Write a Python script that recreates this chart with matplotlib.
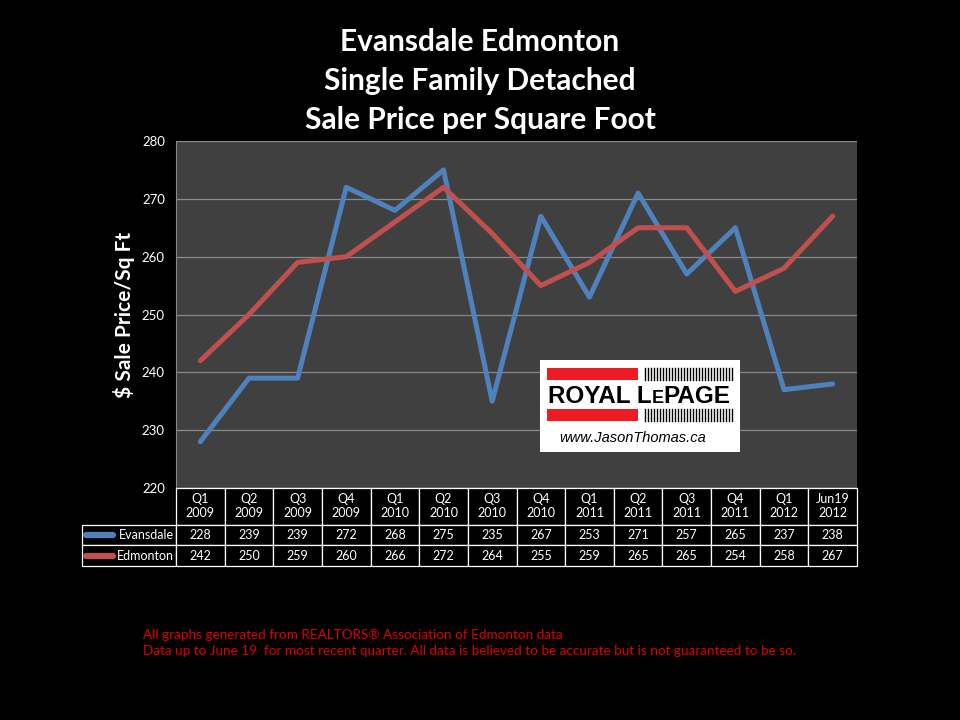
import matplotlib.pyplot as plt
from matplotlib.patches import Rectangle
from matplotlib.lines import Line2D

quarters = ["Q1\n2009", "Q2\n2009", "Q3\n2009", "Q4\n2009", "Q1\n2010", "Q2\n2010", "Q3\n2010",
            "Q4\n2010", "Q1\n2011", "Q2\n2011", "Q3\n2011", "Q4\n2011", "Q1\n2012", "Jun19\n2012"]
evansdale = [228, 239, 239, 272, 268, 275, 235, 267, 253, 271, 257, 265, 237, 238]
edmonton = [242, 250, 259, 260, 266, 272, 264, 255, 259, 265, 265, 254, 258, 267]
series_names = ["Evansdale", "Edmonton"]
colors = ["#4F81BD", "#C0504D"]

plt.rcParams['font.family'] = ['Lato', 'DejaVu Sans']
W, H = 960, 720
fig = plt.figure(figsize=(9.6, 7.2), dpi=100, facecolor="black")

def fx(px):
    return px / W

def fy(py):
    return 1 - py / H

# main plot area
ax = fig.add_axes([fx(176), fy(488), fx(857) - fx(176), (488 - 141) / H])
ax.set_facecolor("#404040")
x = range(len(quarters))
for vals, c in zip([evansdale, edmonton], colors):
    ax.plot(x, vals, color=c, lw=3.6, solid_capstyle="round", zorder=3)
ax.set_xlim(-0.5, len(quarters) - 0.5)
ax.set_ylim(220, 280)
ax.set_yticks(range(220, 281, 10))
ax.yaxis.grid(True, color="#8a8a8a", lw=0.9)
ax.set_axisbelow(True)
ax.set_xticks([])
ax.tick_params(axis="y", colors="white", labelsize=9.5, length=0, pad=8)
for s in ["top", "right"]:
    ax.spines[s].set_visible(False)
ax.spines["left"].set_color("#8a8a8a")
ax.spines["bottom"].set_color("white")
ax.set_ylabel("$ Sale Price/Sq Ft", color="white", fontsize=15, fontweight="bold", labelpad=5)

# data table below the plot, first column holds the series names
tw = 857 - 82
tax = fig.add_axes([fx(82), fy(566), fx(tw), (566 - 488) / H])
tax.axis("off")
rows = [[series_names[0]] + [str(v) for v in evansdale],
        [series_names[1]] + [str(v) for v in edmonton]]
col_w = [94 / tw] + [681 / 14 / tw] * len(quarters)
tbl = tax.table(cellText=rows, colLabels=[""] + quarters, colWidths=col_w,
                cellLoc="center", bbox=[0, 0, 1, 1])
tbl.auto_set_font_size(False)
for (r, c), cell in tbl.get_celld().items():
    cell.set_facecolor("black")
    cell.set_edgecolor("white")
    cell.set_linewidth(0.9)
    cell.get_text().set_color("white")
    cell.get_text().set_fontsize(9)
    cell.set_height(0.47 if r == 0 else 0.265)
    if c == 0:
        cell.get_text().set_ha("right")
        cell.PAD = 0.02
        cell._loc = "right"
        if r == 0:
            cell.set_visible(False)
for ypx, c in zip([535, 556], colors):
    fig.add_artist(Line2D([fx(86), fx(113)], [fy(ypx), fy(ypx)], color=c, lw=4.5,
                          solid_capstyle="round"))

# titles
for i, t in enumerate(["Evansdale Edmonton", "Single Family Detached", "Sale Price per Square Foot"]):
    fig.text(0.5, fy(42 + 39 * i), t, color="white", fontsize=21.5, fontweight="bold",
             ha="center", va="center")

# logo
lx0, ly0, lx1, ly1 = 540, 360, 740, 452
fig.add_artist(Rectangle((fx(lx0), fy(ly1)), fx(lx1 - lx0), (ly1 - ly0) / H,
                         transform=fig.transFigure, facecolor="white", edgecolor="none", zorder=5))
for top in [368, 409]:
    fig.add_artist(Rectangle((fx(547), fy(top + 12)), fx(91), 12 / H, transform=fig.transFigure,
                             facecolor="#ED1C24", edgecolor="none", zorder=6))
    for k in range(30):
        xs = 645 + k * 3
        fig.add_artist(Line2D([fx(xs), fx(xs)], [fy(top), fy(top + 12)], color="black", lw=1.0,
                              zorder=6))
logo_font = ["Liberation Sans", "DejaVu Sans"]
renderer = fig.canvas.get_renderer()
xcur = 548
for piece, size in [("ROYAL L", 17.5), ("E", 13), ("PAGE", 17.5)]:
    t = fig.text(fx(xcur), fy(403), piece, color="black", fontsize=size, fontweight="bold",
                 ha="left", va="baseline", zorder=7, family=logo_font)
    bb = t.get_window_extent(renderer)
    xcur += bb.width
fig.text(fx(633), fy(438), "www.JasonThomas.ca", color="black", fontsize=10.5, style="italic",
         ha="center", va="center", zorder=7, family=logo_font)

# footer
fig.text(fx(143), fy(635), "All graphs generated from REALTORS® Association of Edmonton data",
         color="#E00000", fontsize=9.7, va="center")
fig.text(fx(143), fy(651), "Data up to June 19  for most recent quarter. All data is believed to be accurate but is not guaranteed to be so.",
         color="#E00000", fontsize=9.7, va="center")

fig.savefig("out.png", dpi=100, facecolor="black")
